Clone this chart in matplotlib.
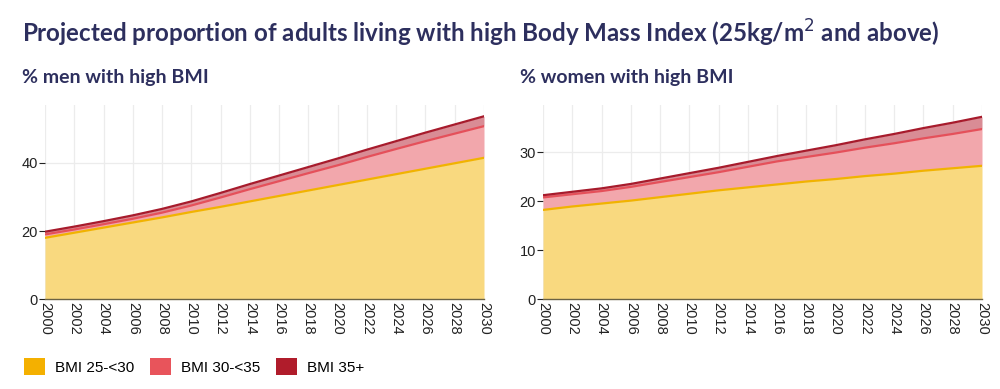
import matplotlib
matplotlib.use('Agg')
import matplotlib.pyplot as plt
from matplotlib.patches import Patch
import numpy as np

plt.rcParams['font.family'] = ['Liberation Sans', 'DejaVu Sans']

# data (percent of adults)
years = np.arange(2000, 2031, 2)
categories = ['BMI 25-<30', 'BMI 30-<35', 'BMI 35+']

men_25_30 = [18.0, 19.5, 21.0, 22.5, 24.0, 25.6, 27.1, 28.7, 30.3, 31.9, 33.5, 35.1, 36.7, 38.3, 39.9, 41.5]
men_30_35 = [1.0, 0.95, 1.0, 1.1, 1.4, 1.9, 2.75, 3.6, 4.35, 5.1, 5.8, 6.65, 7.4, 8.1, 8.7, 9.3]
men_35 = [0.8, 0.85, 0.9, 1.0, 1.1, 1.2, 1.35, 1.5, 1.65, 1.8, 2.0, 2.15, 2.3, 2.5, 2.7, 2.9]

women_25_30 = [18.2, 18.9, 19.5, 20.1, 20.8, 21.5, 22.2, 22.8, 23.4, 24.0, 24.5, 25.1, 25.6, 26.2, 26.7, 27.2]
women_30_35 = [2.55, 2.5, 2.55, 2.8, 3.1, 3.4, 3.7, 4.2, 4.7, 5.0, 5.4, 5.8, 6.2, 6.6, 7.0, 7.5]
women_35 = [0.45, 0.5, 0.55, 0.6, 0.7, 0.8, 0.9, 1.0, 1.1, 1.3, 1.5, 1.7, 1.9, 2.1, 2.3, 2.5]

fill_cols = ['#f9d97f', '#f2a7ac', '#d98c95']
line_cols = ['#f1b300', '#e5505a', '#a71b2c']
legend_cols = ['#f4b000', '#e8545b', '#b01c2b']
navy = '#2d2f5e'

fig = plt.figure(figsize=(10, 3.89), dpi=100)
fig.text(0.022, 0.915, 'Projected proportion of adults living with high Body Mass Index (25kg/m$^2$ and above)',
         fontsize=17.4, fontweight='bold', color=navy, family=['Lato', 'DejaVu Sans'], va='center')


def panel(ax, bands, yticks, ymax, subtitle, sx):
    cum = np.cumsum(np.array(bands), axis=0)
    lower = np.zeros(len(years))
    for i in range(3):
        ax.fill_between(years, lower, cum[i], color=fill_cols[i], lw=0, zorder=2)
        ax.plot(years, cum[i], color=line_cols[i], lw=1.6, zorder=3)
        lower = cum[i]
    ax.set_xlim(2000, 2030)
    ax.set_ylim(0, ymax)
    ax.set_xticks(years)
    ax.set_xticklabels([str(y) for y in years], rotation=-90, fontsize=10.5, color='#222222')
    ax.set_yticks(yticks)
    ax.tick_params(axis='y', labelsize=10.5, colors='#222222', length=4, pad=1)
    ax.tick_params(axis='x', length=0, pad=2)
    ax.grid(True, color='#ececec', lw=0.9, zorder=0)
    ax.set_axisbelow(True)
    for s in ['top', 'right', 'left']:
        ax.spines[s].set_visible(False)
    ax.spines['bottom'].set_color('#6b6244')
    ax.spines['bottom'].set_linewidth(1.0)
    ax.spines['bottom'].set_zorder(4)
    fig.text(sx, 0.80, subtitle, fontsize=14, fontweight='bold', color=navy,
             family=['Lato', 'DejaVu Sans'], va='center')


ax1 = fig.add_axes([0.045, 0.231, 0.439, 0.499])
panel(ax1, [men_25_30, men_30_35, men_35], [0, 20, 40], 57, '% men with high BMI', 0.022)

ax2 = fig.add_axes([0.543, 0.231, 0.439, 0.499])
panel(ax2, [women_25_30, women_30_35, women_35], [0, 10, 20, 30], 39.6, '% women with high BMI', 0.520)

handles = [Patch(facecolor=c, edgecolor='none') for c in legend_cols]
fig.legend(handles, categories, loc='lower left', bbox_to_anchor=(0.010, 0.0), ncol=3,
           frameon=False, fontsize=11, handlelength=1.37, handleheight=1.37,
           columnspacing=1.05, handletextpad=0.65)

fig.savefig('out.png', dpi=100)
